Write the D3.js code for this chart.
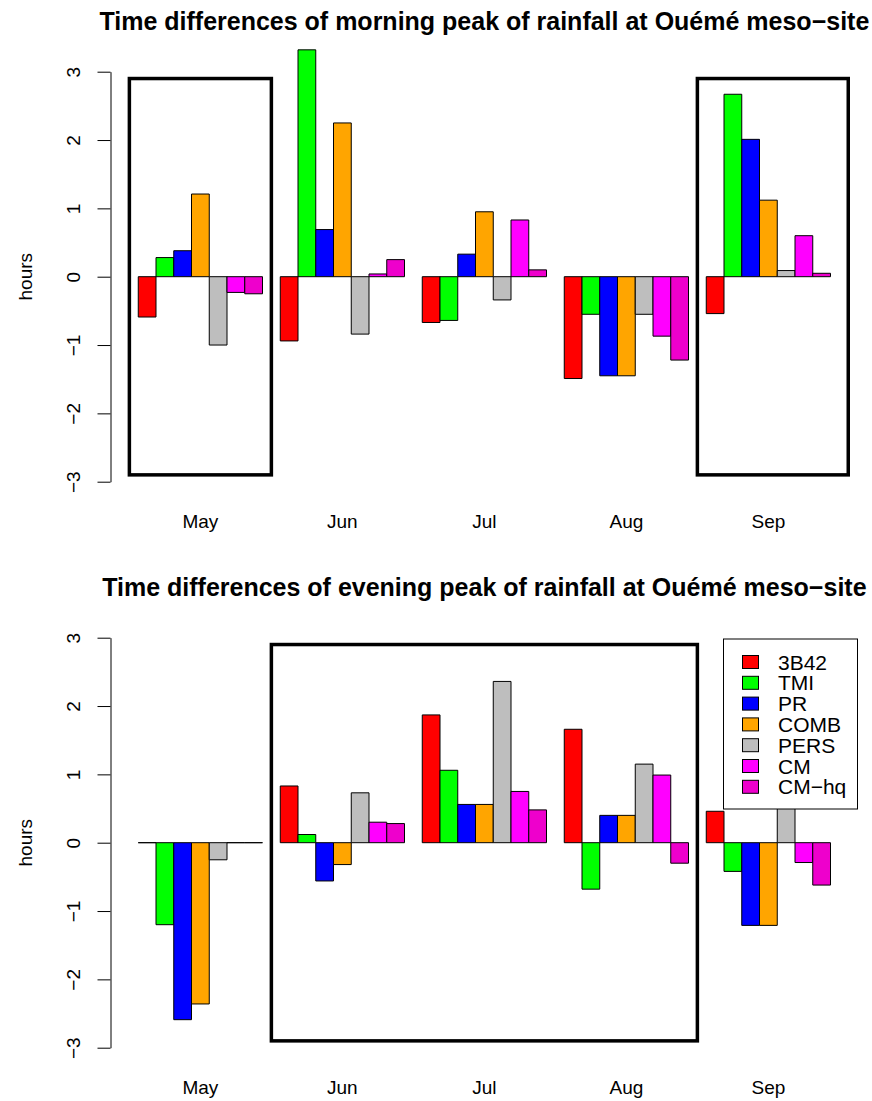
<!DOCTYPE html>
<html><head><meta charset="utf-8">
<script src="https://cdn.jsdelivr.net/npm/d3@7"></script>
<style>body{margin:0;background:#fff}svg{display:block}text{font-family:"Liberation Sans",Arial,Helvetica,sans-serif}</style>
</head><body>
<svg id="c" width="872" height="1101"></svg>
<script>
const months = ["May","Jun","Jul","Aug","Sep"];
const seriesNames = ["3B42","TMI","PR","COMB","PERS","CM","CM\u2212hq"];
const seriesColors = ["#FF0000","#00FF00","#0000FF","#FFA500","#BEBEBE","#FF00FF","#EE00CC"];
const yTicks = [-3,-2,-1,0,1,2,3];

// morning peak differences (hours), one array per series across months
const m3B42 = [-0.59,-0.94,-0.67,-1.49,-0.54];
const mTMI  = [0.28,3.32,-0.64,-0.55,2.67];
const mPR   = [0.38,0.69,0.33,-1.45,2.01];
const mCOMB = [1.21,2.25,0.95,-1.45,1.12];
const mPERS = [-1.00,-0.84,-0.34,-0.55,0.09];
const mCM   = [-0.23,0.04,0.83,-0.87,0.60];
const mCMhq = [-0.25,0.25,0.10,-1.22,0.05];

// evening peak differences (hours)
const e3B42 = [0,0.83,1.87,1.66,0.46];
const eTMI  = [-1.20,0.12,1.06,-0.68,-0.42];
const ePR   = [-2.59,-0.56,0.56,0.40,-1.21];
const eCOMB = [-2.36,-0.32,0.56,0.40,-1.21];
const ePERS = [-0.25,0.73,2.36,1.15,0.51];
const eCM   = [0,0.30,0.75,0.99,-0.29];
const eCMhq = [0,0.28,0.48,-0.30,-0.62];

// highlight boxes [x-left unit, x-right unit, y-bottom, y-top]
const mBoxes = [[0.5,8.5,-2.9,2.9],[32.5,41,-2.9,2.9]];
const eBoxes = [[8.5,32.5,-2.9,2.9]];

const panels = [
  {title:"Time differences of morning peak of rainfall at Ouémé meso\u2212site",
   data:[m3B42,mTMI,mPR,mCOMB,mPERS,mCM,mCMhq], boxes:mBoxes, off:0, legend:false},
  {title:"Time differences of evening peak of rainfall at Ouémé meso\u2212site",
   data:[e3B42,eTMI,ePR,eCOMB,ePERS,eCM,eCMhq], boxes:eBoxes, off:566, legend:true}
];

const svg = d3.select("#c");
const x = d3.scaleLinear().domain([0,40]).range([120.5,830.5]);
const nS = seriesNames.length;

panels.forEach(p=>{
  const g = svg.append("g").attr("transform",`translate(0,${p.off})`);
  const y = d3.scaleLinear().domain([-3,3]).range([481.7,71.7]);
  const cells = [];
  months.forEach((mo,mi)=>{
    seriesNames.forEach((s,si)=>{
      cells.push({mi,si,v:p.data[si][mi],u:1+mi*(nS+1)+si});
    });
  });
  g.selectAll("path.bar").data(cells).enter().append("path")
    .attr("class","bar")
    .attr("d",d=>{
      const x0=x(d.u), x1=x(d.u+1), y0=y(0), y1=y(d.v);
      return `M${x0},${y0}H${x1}V${y1}H${x0}Z`;
    })
    .attr("fill",d=>seriesColors[d.si]).attr("stroke","#000").attr("stroke-width",1);

  g.selectAll("rect.box").data(p.boxes).enter().append("rect")
    .attr("class","box")
    .attr("x",d=>x(d[0])).attr("width",d=>x(d[1])-x(d[0]))
    .attr("y",d=>y(d[3])).attr("height",d=>y(d[2])-y(d[3]))
    .attr("fill","none").attr("stroke","#000").attr("stroke-width",3.5);

  // y axis
  const ax = g.append("g").attr("transform","translate(110.5,0)")
    .call(d3.axisLeft(y).tickValues(yTicks).tickSize(13).tickSizeOuter(0)
      .tickFormat(d=>d<0?"\u2212"+Math.abs(d):String(d)));
  ax.select(".domain").attr("stroke","#000");
  ax.selectAll(".tick line").attr("stroke","#000");
  ax.selectAll(".tick text").attr("x",null).attr("dy",null)
    .attr("transform","translate(-30.5,0) rotate(-90)")
    .attr("text-anchor","middle").attr("fill","#000")
    .style("font-size","19px").style("font-family",'"Liberation Sans",Arial,sans-serif');

  g.append("text").attr("transform",`translate(31.5,${y(0)}) rotate(-90)`)
    .attr("text-anchor","middle").style("font-size","19px").text("hours");

  // month labels
  g.selectAll("text.mon").data(months).enter().append("text")
    .attr("class","mon").attr("x",(d,i)=>x(1+i*(nS+1)+nS/2)).attr("y",527.5)
    .attr("text-anchor","middle").style("font-size","19px").text(d=>d);

  g.append("text").attr("x",x(20.5)).attr("y",30)
    .attr("text-anchor","middle").style("font-size","25px").style("font-weight","bold")
    .text(p.title);

  if(p.legend){
    const lg = g.append("g");
    lg.append("rect").attr("x",723.5).attr("y",73).attr("width",134).attr("height",170)
      .attr("fill","#fff").attr("stroke","#000").attr("stroke-width",1);
    seriesNames.forEach((s,i)=>{
      const cy = 96 + i*20.8;
      lg.append("rect").attr("x",742.5).attr("y",cy-6.5).attr("width",16).attr("height",13)
        .attr("fill",seriesColors[i]).attr("stroke","#000").attr("stroke-width",1);
      lg.append("text").attr("x",778).attr("y",cy+7.5).style("font-size","21px").text(s);
    });
  }
});
</script>
</body></html>
